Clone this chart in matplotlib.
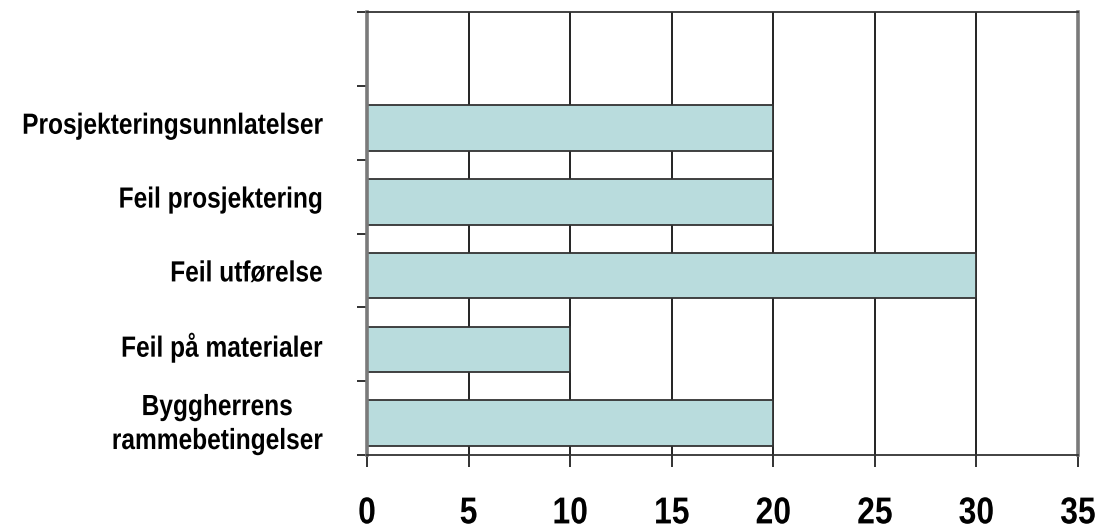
import matplotlib
matplotlib.use("Agg")
import matplotlib.pyplot as plt
import numpy as np
from matplotlib import patheffects
from matplotlib.transforms import Affine2D

# categories from bottom to top; the top slot is left empty
categories = ["Byggherrens\nrammebetingelser", "Feil på materialer", "Feil utførelse",
              "Feil prosjektering", "Prosjekteringsunnlatelser", ""]
values = [20, 10, 30, 20, 20, np.nan]
x_ticks = [0, 5, 10, 15, 20, 25, 30, 35]


class Condensed(patheffects.AbstractPathEffect):
    """Squeeze text horizontally about a fixed x (pixels) or its own centre."""

    def __init__(self, factor, anchor=None):
        super().__init__()
        self.factor = factor
        self.anchor = anchor

    def draw_path(self, renderer, gc, tpath, affine, rgbFace=None):
        x0 = self.anchor
        if x0 is None:
            ext = tpath.get_extents(affine)
            x0 = 0.5 * (ext.x0 + ext.x1)
        squeeze = Affine2D().translate(-x0, 0).scale(self.factor, 1).translate(x0, 0)
        renderer.draw_path(gc, tpath, affine + squeeze, rgbFace)


plt.rcParams["font.family"] = ["Liberation Sans", "DejaVu Sans"]

fig = plt.figure(figsize=(10.96, 5.27), dpi=100)
ax = fig.add_axes([367 / 1096, 72 / 527, 711 / 1096, 443 / 527])

pos = np.arange(len(categories))
ax.barh(pos - 0.07, values, height=0.62, color="#b9dcdd",
        edgecolor="#333333", linewidth=1.3, zorder=2)

ax.set_xlim(0, 35)
ax.set_ylim(-0.5, len(categories) - 0.5)
ax.set_xticks(x_ticks)
ax.set_xticklabels([str(v) for v in x_ticks], fontsize=27, fontweight="bold")
ax.tick_params(axis="x", direction="out", length=8.6, width=1.3,
               color="#222222", pad=20.5)
for lbl in ax.get_xticklabels():
    lbl.set_path_effects([Condensed(0.85)])

# boundary ticks between categories, labels at the slot centres
ylab_pad = 32
ax.set_yticks(np.arange(-0.5, len(categories)), minor=False)
ax.set_yticklabels([])
ax.set_yticks(pos, minor=True)
ax.set_yticklabels(categories, minor=True, fontsize=21, fontweight="bold",
                   multialignment="center", linespacing=1.27)
ax.tick_params(axis="y", which="major", direction="out", length=7, width=1.3,
               color="#222222")
ax.tick_params(axis="y", which="minor", length=0, pad=ylab_pad)
label_right = ax.transAxes.transform((0, 0))[0] - ylab_pad * fig.dpi / 72
for lbl in ax.get_yticklabels(minor=True):
    lbl.set_path_effects([Condensed(0.84, anchor=label_right)])

ax.grid(axis="x", color="#111111", linewidth=1.3, zorder=0)
ax.set_axisbelow(True)

for side in ("left", "right"):
    ax.spines[side].set_color("#7a7a7a")
    ax.spines[side].set_linewidth(2.6)
for side in ("top", "bottom"):
    ax.spines[side].set_color("#333333")
    ax.spines[side].set_linewidth(1.3)

fig.savefig("out.png", dpi=100)
